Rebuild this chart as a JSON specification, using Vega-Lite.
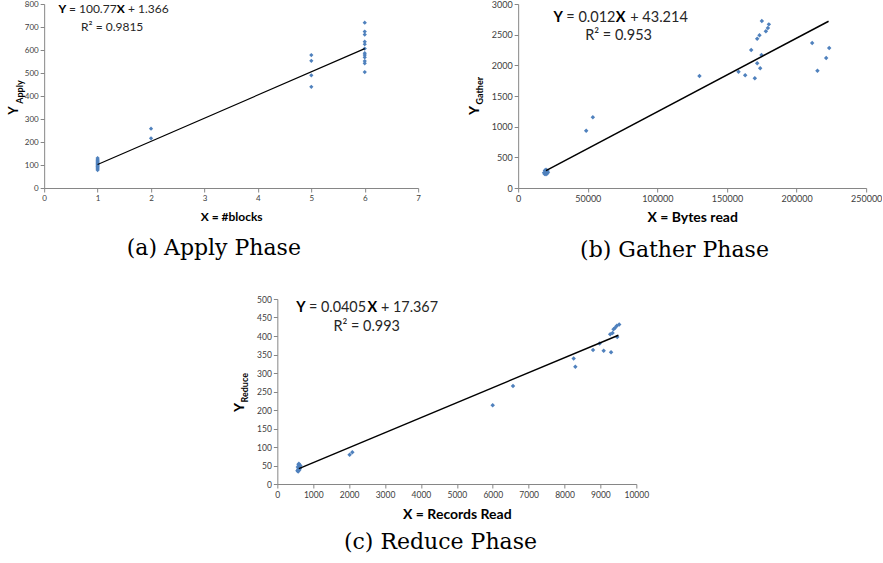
{
  "$schema": "https://vega.github.io/schema/vega-lite/v6.json",
  "padding": {"left": 7, "top": 0, "right": 0, "bottom": 0},
  "background": "white",
  "datasets": {
    "apply": [
      {"x": 1, "y": 78}, {"x": 1, "y": 83}, {"x": 1, "y": 87}, {"x": 1, "y": 91}, {"x": 1, "y": 95},
      {"x": 1, "y": 99}, {"x": 1, "y": 103}, {"x": 1, "y": 107}, {"x": 1, "y": 111}, {"x": 1, "y": 115},
      {"x": 1, "y": 120}, {"x": 1, "y": 125}, {"x": 1, "y": 130},
      {"x": 2, "y": 216}, {"x": 2, "y": 258},
      {"x": 5, "y": 440}, {"x": 5, "y": 490}, {"x": 5, "y": 553}, {"x": 5, "y": 578},
      {"x": 6, "y": 504}, {"x": 6, "y": 542}, {"x": 6, "y": 552}, {"x": 6, "y": 568}, {"x": 6, "y": 578},
      {"x": 6, "y": 586}, {"x": 6, "y": 606}, {"x": 6, "y": 625}, {"x": 6, "y": 636}, {"x": 6, "y": 667},
      {"x": 6, "y": 680}, {"x": 6, "y": 719}
    ],
    "applyFit": [{"x": 1, "y": 102.14}, {"x": 6, "y": 605.99}],
    "gather": [
      {"x": 18600, "y": 250}, {"x": 20000, "y": 265}, {"x": 21400, "y": 255}, {"x": 19200, "y": 285},
      {"x": 20800, "y": 235}, {"x": 20000, "y": 225}, {"x": 20000, "y": 298}, {"x": 19000, "y": 230},
      {"x": 21000, "y": 282}, {"x": 20000, "y": 260},
      {"x": 48850, "y": 935}, {"x": 53650, "y": 1155}, {"x": 130250, "y": 1825},
      {"x": 158280, "y": 1897}, {"x": 163080, "y": 1840}, {"x": 167390, "y": 2250}, {"x": 170000, "y": 1790},
      {"x": 171700, "y": 2435}, {"x": 171700, "y": 2035}, {"x": 173350, "y": 2490}, {"x": 173850, "y": 1952},
      {"x": 174800, "y": 2168}, {"x": 175050, "y": 2723}, {"x": 177940, "y": 2554}, {"x": 179380, "y": 2609},
      {"x": 180100, "y": 2668}, {"x": 211200, "y": 2364}, {"x": 215000, "y": 1913}, {"x": 221260, "y": 2120},
      {"x": 223420, "y": 2283}
    ],
    "gatherFit": [{"x": 20000, "y": 283.2}, {"x": 223000, "y": 2719.2}],
    "reduce": [
      {"x": 560, "y": 36}, {"x": 580, "y": 40}, {"x": 600, "y": 44}, {"x": 620, "y": 48}, {"x": 590, "y": 52},
      {"x": 610, "y": 38}, {"x": 570, "y": 46}, {"x": 630, "y": 42}, {"x": 600, "y": 55}, {"x": 640, "y": 50},
      {"x": 580, "y": 34},
      {"x": 2014, "y": 79}, {"x": 2089, "y": 86}, {"x": 5999, "y": 213}, {"x": 6564, "y": 265},
      {"x": 8254, "y": 339}, {"x": 8301, "y": 317}, {"x": 8794, "y": 362}, {"x": 8977, "y": 380},
      {"x": 9090, "y": 360}, {"x": 9296, "y": 356}, {"x": 9468, "y": 397},
      {"x": 9271, "y": 405}, {"x": 9337, "y": 408}, {"x": 9365, "y": 418}, {"x": 9410, "y": 422},
      {"x": 9457, "y": 428}, {"x": 9522, "y": 431}
    ],
    "reduceFit": [{"x": 600, "y": 41.67}, {"x": 9500, "y": 402.1}]
  },
  "vconcat": [
    {
      "hconcat": [
        {
          "width": 374,
          "height": 184,
          "title": {"text": "(a) Apply Phase", "offset": 16},
          "layer": [
            {
              "data": {"name": "apply"},
              "mark": {"type": "point", "shape": "diamond", "filled": true, "size": 18, "color": "#4F81BD", "opacity": 1},
              "encoding": {
                "x": {"field": "x", "type": "quantitative", "scale": {"domain": [0, 7], "nice": false},
                  "axis": {"values": [0, 1, 2, 3, 4, 5, 6, 7], "tickCount": 30, "format": "d", "labelOverlap": false, "labelFlush": false, "title": "X = #blocks", "labelFontSize": 8, "titleFontSize": 12, "titlePadding": 9}},
                "y": {"field": "y", "type": "quantitative", "scale": {"domain": [0, 800], "nice": false},
                  "axis": {"values": [0, 100, 200, 300, 400, 500, 600, 700, 800], "tickCount": 30, "format": "d", "labelOverlap": false, "labelFlush": false, "labelFontSize": 8, "title": "Y", "titleFontSize": 13, "titleX": -31, "titleY": 106, "titleAngle": 270, "titleAlign": "center", "titleBaseline": "middle"}}
              }
            },
            {
              "data": {"name": "applyFit"},
              "mark": {"type": "line", "color": "#000000", "strokeWidth": 1.2},
              "encoding": {"x": {"field": "x", "type": "quantitative"}, "y": {"field": "y", "type": "quantitative"}}
            },
            {
              "data": {"values": [{}]},
              "mark": {"type": "text", "align": "center", "baseline": "middle", "angle": 270, "fontSize": 9, "fontWeight": "bold", "color": "#000000"},
              "encoding": {"x": {"datum": -0.46}, "y": {"datum": 417}, "text": {"value": "Apply"}}
            },
            {
              "data": {"values": [{}]},
              "mark": {"type": "text", "align": "left", "baseline": "middle", "fontSize": 12, "fontWeight": "bold", "color": "#000000"},
              "encoding": {"x": {"datum": 0.268}, "y": {"datum": 778}, "text": {"value": "Y"}}
            },
            {
              "data": {"values": [{}]},
              "mark": {"type": "text", "align": "left", "baseline": "middle", "fontSize": 12, "color": "#262626"},
              "encoding": {"x": {"datum": 0.464}, "y": {"datum": 778}, "text": {"value": "= 100.77"}}
            },
            {
              "data": {"values": [{}]},
              "mark": {"type": "text", "align": "right", "baseline": "middle", "fontSize": 12, "fontWeight": "bold", "color": "#000000"},
              "encoding": {"x": {"datum": 1.51}, "y": {"datum": 778}, "text": {"value": "X"}}
            },
            {
              "data": {"values": [{}]},
              "mark": {"type": "text", "align": "left", "baseline": "middle", "fontSize": 12, "color": "#262626"},
              "encoding": {"x": {"datum": 1.568}, "y": {"datum": 778}, "text": {"value": "+ 1.366"}}
            },
            {
              "data": {"values": [{}]},
              "mark": {"type": "text", "align": "left", "baseline": "middle", "fontSize": 12, "color": "#262626"},
              "encoding": {"x": {"datum": 0.69}, "y": {"datum": 700}, "text": {"value": "R² = 0.9815"}}
            }
          ]
        },
        {
          "width": 348,
          "height": 184,
          "title": {"text": "(b) Gather Phase", "offset": 16},
          "layer": [
            {
              "data": {"name": "gather"},
              "mark": {"type": "point", "shape": "diamond", "filled": true, "size": 20, "color": "#4F81BD", "opacity": 1},
              "encoding": {
                "x": {"field": "x", "type": "quantitative", "scale": {"domain": [0, 250000], "nice": false},
                  "axis": {"values": [0, 50000, 100000, 150000, 200000, 250000], "tickCount": 30, "format": "d", "labelOverlap": false, "labelFlush": false, "title": "X = Bytes read", "labelFontSize": 9, "titleFontSize": 14, "titlePadding": 7}},
                "y": {"field": "y", "type": "quantitative", "scale": {"domain": [0, 3000], "nice": false},
                  "axis": {"values": [0, 500, 1000, 1500, 2000, 2500, 3000], "tickCount": 30, "format": "d", "labelOverlap": false, "labelFlush": false, "labelFontSize": 9, "title": "Y", "titleFontSize": 14, "titleX": -44, "titleY": 106, "titleAngle": 270, "titleAlign": "center", "titleBaseline": "middle"}}
              }
            },
            {
              "data": {"name": "gatherFit"},
              "mark": {"type": "line", "color": "#000000", "strokeWidth": 1.5},
              "encoding": {"x": {"field": "x", "type": "quantitative"}, "y": {"field": "y", "type": "quantitative"}}
            },
            {
              "data": {"values": [{}]},
              "mark": {"type": "text", "align": "center", "baseline": "middle", "angle": 270, "fontSize": 9, "fontWeight": "bold", "color": "#000000"},
              "encoding": {"x": {"datum": -27300}, "y": {"datum": 1586}, "text": {"value": "Gather"}}
            },
            {
              "data": {"values": [{}]},
              "mark": {"type": "text", "align": "left", "baseline": "middle", "fontSize": 14.5, "fontWeight": "bold", "color": "#000000"},
              "encoding": {"x": {"datum": 25360}, "y": {"datum": 2772}, "text": {"value": "Y"}}
            },
            {
              "data": {"values": [{}]},
              "mark": {"type": "text", "align": "left", "baseline": "middle", "fontSize": 14.5, "color": "#262626"},
              "encoding": {"x": {"datum": 34555}, "y": {"datum": 2772}, "text": {"value": "= 0.012"}}
            },
            {
              "data": {"values": [{}]},
              "mark": {"type": "text", "align": "right", "baseline": "middle", "fontSize": 14.5, "fontWeight": "bold", "color": "#000000"},
              "encoding": {"x": {"datum": 77100}, "y": {"datum": 2772}, "text": {"value": "X"}}
            },
            {
              "data": {"values": [{}]},
              "mark": {"type": "text", "align": "left", "baseline": "middle", "fontSize": 14.5, "color": "#262626"},
              "encoding": {"x": {"datum": 80480}, "y": {"datum": 2772}, "text": {"value": "+ 43.214"}}
            },
            {
              "data": {"values": [{}]},
              "mark": {"type": "text", "align": "left", "baseline": "middle", "fontSize": 14.5, "color": "#262626"},
              "encoding": {"x": {"datum": 48130}, "y": {"datum": 2478}, "text": {"value": "R² = 0.953"}}
            }
          ]
        }
      ],
      "spacing": 46
    },
    {
      "width": 359,
      "height": 185,
      "title": {"text": "(c) Reduce Phase", "offset": 10},
      "layer": [
        {
          "data": {"name": "reduce"},
          "mark": {"type": "point", "shape": "diamond", "filled": true, "size": 20, "color": "#4F81BD", "opacity": 1},
          "encoding": {
            "x": {"field": "x", "type": "quantitative", "scale": {"domain": [0, 10000], "nice": false},
              "axis": {"values": [0, 1000, 2000, 3000, 4000, 5000, 6000, 7000, 8000, 9000, 10000], "tickCount": 30, "format": "d", "labelOverlap": false, "labelFlush": false, "title": "X = Records Read", "labelFontSize": 8.5, "titleFontSize": 14, "titlePadding": 9}},
            "y": {"field": "y", "type": "quantitative", "scale": {"domain": [0, 500], "nice": false},
              "axis": {"values": [0, 50, 100, 150, 200, 250, 300, 350, 400, 450, 500], "tickCount": 30, "format": "d", "labelOverlap": false, "labelFlush": false, "labelFontSize": 8.5, "title": "Y", "titleFontSize": 14, "titleX": -38, "titleY": 108, "titleAngle": 270, "titleAlign": "center", "titleBaseline": "middle"}}
          }
        },
        {
          "data": {"name": "reduceFit"},
          "mark": {"type": "line", "color": "#000000", "strokeWidth": 1.5},
          "encoding": {"x": {"field": "x", "type": "quantitative"}, "y": {"field": "y", "type": "quantitative"}}
        },
        {
          "data": {"values": [{}]},
          "mark": {"type": "text", "align": "center", "baseline": "middle", "angle": 270, "fontSize": 9, "fontWeight": "bold", "color": "#000000"},
          "encoding": {"x": {"datum": -890}, "y": {"datum": 260}, "text": {"value": "Reduce"}}
        },
        {
          "data": {"values": [{}]},
          "mark": {"type": "text", "align": "left", "baseline": "middle", "fontSize": 14.4, "fontWeight": "bold", "color": "#000000"},
          "encoding": {"x": {"datum": 529}, "y": {"datum": 476}, "text": {"value": "Y"}}
        },
        {
          "data": {"values": [{}]},
          "mark": {"type": "text", "align": "left", "baseline": "middle", "fontSize": 14.4, "color": "#262626"},
          "encoding": {"x": {"datum": 879}, "y": {"datum": 476}, "text": {"value": "= 0.0405"}}
        },
        {
          "data": {"values": [{}]},
          "mark": {"type": "text", "align": "right", "baseline": "middle", "fontSize": 14.4, "fontWeight": "bold", "color": "#000000"},
          "encoding": {"x": {"datum": 2782}, "y": {"datum": 476}, "text": {"value": "X"}}
        },
        {
          "data": {"values": [{}]},
          "mark": {"type": "text", "align": "left", "baseline": "middle", "fontSize": 14.4, "color": "#262626"},
          "encoding": {"x": {"datum": 2885}, "y": {"datum": 476}, "text": {"value": "+ 17.367"}}
        },
        {
          "data": {"values": [{}]},
          "mark": {"type": "text", "align": "left", "baseline": "middle", "fontSize": 14.4, "color": "#262626"},
          "encoding": {"x": {"datum": 1566}, "y": {"datum": 425}, "text": {"value": "R² = 0.993"}}
        }
      ]
    }
  ],
  "spacing": 34,
  "center": true,
  "config": {
    "view": {"stroke": null},
    "font": "Lato",
    "axis": {
      "grid": false,
      "domainColor": "#868686",
      "tickColor": "#868686",
      "tickSize": 4,
      "labelColor": "#404040",
      "labelFont": "Lato",
      "labelPadding": 2,
      "labelFlush": false,
      "labelOverlap": false,
      "titleFont": "Lato",
      "titleFontWeight": "bold",
      "titleColor": "#000000"
    },
    "title": {
      "font": "DejaVu Serif",
      "fontWeight": "normal",
      "fontSize": 22,
      "color": "#000000",
      "orient": "bottom",
      "frame": "bounds",
      "anchor": "middle"
    }
  }
}
